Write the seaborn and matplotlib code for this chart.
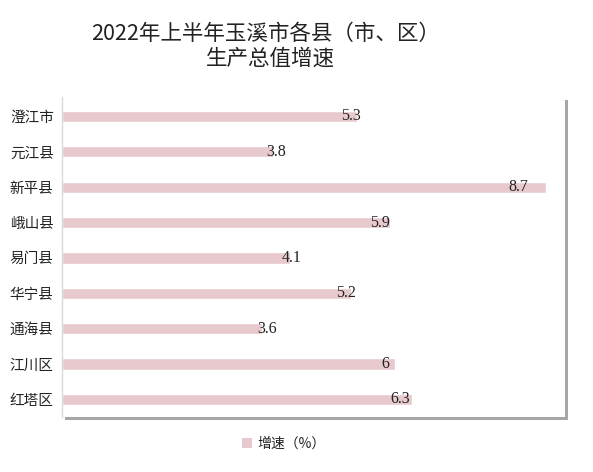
import matplotlib
matplotlib.use("Agg")
import matplotlib.pyplot as plt
import seaborn as sns
import pandas as pd
from matplotlib.patches import Rectangle, Patch

categories = ["澄江市", "元江县", "新平县", "峨山县", "易门县", "华宁县", "通海县", "江川区", "红塔区"]
values = [5.3, 3.8, 8.7, 5.9, 4.1, 5.2, 3.6, 6, 6.3]
value_labels = ["5.3", "3.8", "8.7", "5.9", "4.1", "5.2", "3.6", "6", "6.3"]
series_name = "增速（%）"
title_line1 = "2022年上半年玉溪市各县（市、区）"
title_line2 = "生产总值增速"

sns.set_theme(style="white")
plt.rcParams['font.family'] = ['Noto Sans CJK SC', 'DejaVu Sans']

df = pd.DataFrame({"county": categories, "value": values})
bar_color = "#E8C9CD"

fig = plt.figure(figsize=(5.93, 4.72), dpi=100)
ax_rect = [62/593, 1-417/472, (565-62)/593, (417-97)/472]

# shadow
fig.patches.append(Rectangle((ax_rect[0] + 3/593, ax_rect[1] - 3/472), ax_rect[2], ax_rect[3],
                             transform=fig.transFigure, facecolor="#a6a6a6", edgecolor="none", zorder=0))
ax = fig.add_axes(ax_rect)
ax.set_facecolor("white")
ax.set_zorder(1)

sns.barplot(data=df, x="value", y="county", orient="h", color=bar_color, width=0.32,
            saturation=1, ax=ax)

ax.set_xlim(0, 9.05)
ax.set_ylim(8.5, -0.55)
ax.set_xticks([])
ax.set_xlabel("")
ax.set_ylabel("")
for s in ["top", "right", "bottom"]:
    ax.spines[s].set_visible(False)
ax.spines["left"].set_color("#d9d9d9")
ax.spines["left"].set_linewidth(1)
ax.tick_params(axis="y", length=0, pad=6, labelsize=10.5, labelcolor="#222222")

for i, (v, lab) in enumerate(zip(values, value_labels)):
    ax.text(0.888 * v + 0.485, i, lab, ha="center", va="center", fontsize=11.5,
            family=["Liberation Serif"], color="#222222")

fig.text(266/593, 1-34/472, title_line1, ha="center", va="center",
         fontsize=15.5, color="#222222")
fig.text(270/593, 1-59/472, title_line2, ha="center", va="center", fontsize=15.5, color="#222222")

leg = fig.legend(handles=[Patch(facecolor=bar_color, edgecolor="none", label=series_name)],
                 loc="center", bbox_to_anchor=(0.479, 1-444/472), frameon=False,
                 fontsize=10, handlelength=0.7, handleheight=0.7, handletextpad=0.4)
for t in leg.get_texts():
    t.set_color("#222222")

fig.savefig("out.png", dpi=100, facecolor="white")
